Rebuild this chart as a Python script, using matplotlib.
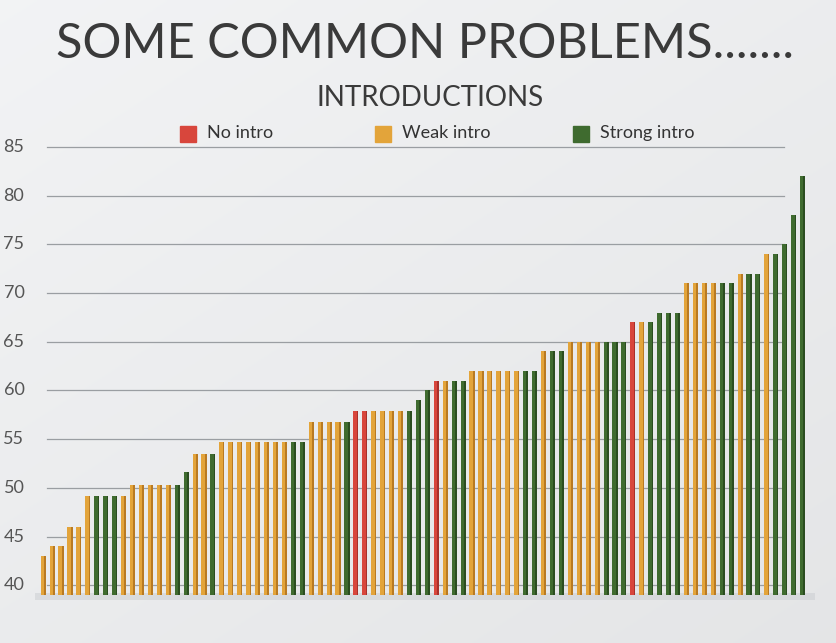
import matplotlib
matplotlib.use("Agg")
import matplotlib.pyplot as plt
import numpy as np
from matplotlib.patches import Rectangle

# ---- data ----
groups = ["No intro", "Weak intro", "Strong intro"]
group_colors = {"No intro": "#d8463c", "Weak intro": "#e3a43a", "Strong intro": "#3f6b2f"}
side_colors = {"No intro": "#a8302a", "Weak intro": "#b97a22", "Strong intro": "#2b4d20"}

bar_groups = (["Weak intro"] * 6 + ["Strong intro"] * 3 + ["Weak intro"] * 6 +
              ["Strong intro"] * 2 + ["Weak intro"] * 2 + ["Strong intro"] +
              ["Weak intro"] * 8 + ["Strong intro"] * 2 + ["Weak intro"] * 4 +
              ["Strong intro"] + ["No intro"] * 2 + ["Weak intro"] * 4 +
              ["Strong intro"] * 3 + ["No intro"] + ["Weak intro"] + ["Strong intro"] * 2 +
              ["Weak intro"] * 6 + ["Strong intro"] * 2 + ["Weak intro"] +
              ["Strong intro"] * 2 + ["Weak intro"] * 4 + ["Strong intro"] * 3 +
              ["No intro"] + ["Weak intro"] + ["Strong intro"] * 4 + ["Weak intro"] * 4 +
              ["Strong intro"] * 2 + ["Weak intro"] + ["Strong intro"] * 2 +
              ["Weak intro"] + ["Strong intro"] * 4)

bar_values = ([43, 44, 44, 46, 46, 49.2] + [49.2] * 3 + [49.2] + [50.3] * 5 +
              [50.3, 51.6] + [53.5, 53.5] + [53.5] +
              [54.7] * 8 + [54.7] * 2 + [56.8] * 4 +
              [56.8] + [57.9] * 2 + [57.9] * 4 +
              [57.9, 59, 60] + [61] + [61] + [61, 61] +
              [62] * 6 + [62] * 2 + [64.1] +
              [64.1] * 2 + [65] * 4 + [65] * 3 +
              [67] + [67] + [67, 68, 68, 68] + [71] * 4 +
              [71] * 2 + [72] + [72] * 2 +
              [74] + [74, 75, 78, 82])

y_ticks = [40, 45, 50, 55, 60, 65, 70, 75, 80, 85]

title = "SOME COMMON PROBLEMS......."
subtitle = "INTRODUCTIONS"

# ---- figure ----
W, H = 836, 643
fig = plt.figure(figsize=(W / 100, H / 100), dpi=100)
fig.patch.set_facecolor("#e8eaec")

# background gradient
bg = fig.add_axes([0, 0, 1, 1], zorder=-10)
grad = np.linspace(0, 1, 256)
gx, gy = np.meshgrid(grad, grad)
img = 0.95 - 0.03 * gy - 0.025 * gx
bg.imshow(np.dstack([img, img + 0.004, img + 0.01]), extent=[0, 1, 0, 1],
          aspect="auto", origin="upper")
bg.axis("off")

ax = fig.add_axes([35 / W, 1 - 600 / H, 780 / W, (600 - 142) / H])
ax.set_facecolor("none")
ax.set_xlim(-0.9, 86.4)
ax.set_ylim(38.5, 85.5)
for s in ax.spines.values():
    s.set_visible(False)
ax.set_xticks([])
ax.set_yticks([])

for yt in y_ticks:
    ax.axhline(yt, xmin=0.015, xmax=0.96, color="#9a9ea2", lw=0.9, zorder=0)
    ax.text(-0.027, yt, str(yt), transform=ax.get_yaxis_transform(),
            ha="center", va="center", fontsize=13, color="#555555",
            family="Lato")

x = np.arange(len(bar_values))
base = 39.0
face = [group_colors[g] for g in bar_groups]
side = [side_colors[g] for g in bar_groups]
heights = np.array(bar_values) - base
ax.bar(x + 0.16, heights, width=0.28, bottom=base, color=side, zorder=2, linewidth=0)
ax.bar(x - 0.08, heights, width=0.38, bottom=base, color=face, zorder=3, linewidth=0)

# floor shadow
ax.fill_between([-0.9, 86.4], 38.5, 39.2, color="#c9ccd0", alpha=0.5, zorder=1, lw=0)

# titles
fig.text(0.508, 1 - 44 / H, title, ha="center", va="center", fontsize=35,
         color="#3a3a3a", family="Lato")
fig.text(0.514, 1 - 98 / H, subtitle, ha="center", va="center", fontsize=20,
         color="#3a3a3a", family="Lato")

# legend
leg_x = [180, 375, 573]
for g, lx in zip(groups, leg_x):
    fig.patches.append(Rectangle((lx / W, 1 - 142 / H), 16 / W, 16 / H,
                                 transform=fig.transFigure, color=group_colors[g]))
    fig.text((lx + 27) / W, 1 - 133 / H, g, ha="left", va="center", fontsize=13,
             color="#333333", family="Lato")

fig.savefig("out.png", dpi=100)
